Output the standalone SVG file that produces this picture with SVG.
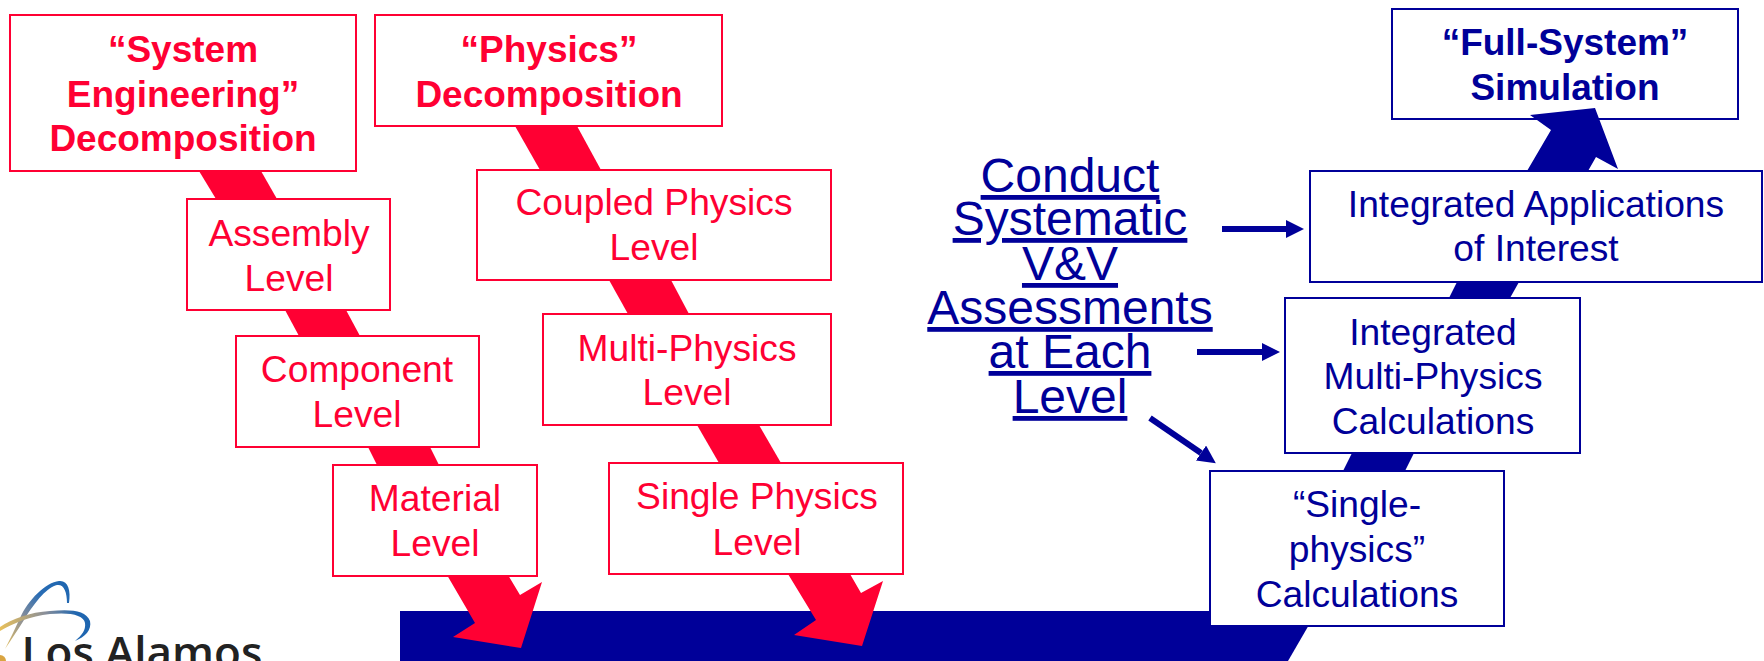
<svg xmlns="http://www.w3.org/2000/svg" width="1764" height="661" viewBox="0 0 1764 661">
<style>
text{font-family:"Liberation Sans",Arial,sans-serif;font-size:37.2px;text-anchor:middle}
.r rect{fill:#fff;stroke:#FF0033;stroke-width:2}
.b rect{fill:#fff;stroke:#000099;stroke-width:2}
.r text{fill:#FF0033}
.b text{fill:#000099}
.h text{font-weight:bold;font-size:37px}
.rf{fill:#FF0033}
.bf{fill:#000099}
.ln{stroke:#000099;stroke-width:6;fill:none;marker-end:url(#ah)}
#vv text{font-size:48px;fill:#000099;text-decoration:underline}
</style>
<defs>
<marker id="ah" markerUnits="userSpaceOnUse" markerWidth="18" markerHeight="18" refX="0" refY="9" orient="auto"><path d="M0 0L18 9L0 18Z" fill="#000099"/></marker>
<linearGradient id="g1" gradientUnits="userSpaceOnUse" x1="4" y1="650" x2="66" y2="585"><stop offset="0" stop-color="#E8C05A"/><stop offset=".4" stop-color="#8A8F99"/><stop offset=".72" stop-color="#2A6DB5"/><stop offset="1" stop-color="#1F66B0"/></linearGradient>
<linearGradient id="g2" gradientUnits="userSpaceOnUse" x1="0" y1="625" x2="90" y2="625"><stop offset="0" stop-color="#E8C05A"/><stop offset=".5" stop-color="#8A8F99"/><stop offset=".85" stop-color="#1F66B0"/></linearGradient>
</defs>

<g id="logo">
<path d="M69 603C71 590 68 580 59 581C46 582 28 600 20 618C15 629 10 639 5 649C11 640 17 631 24 620C36 600 48 587 57 585C64 584 67 592 67 603Z" fill="url(#g1)"/>
<path d="M0 631C14 623 30 616 50 614C70 612 84 615 85 623C86 630 82 635 75 641C85 637 92 630 90 621C86 610 70 609 50 611C30 612 12 619 0 627Z" fill="url(#g2)"/>
<circle cx="0" cy="661" r="6" fill="#D9A441"/>
<text x="142" y="668" style="font-family:'Open Sans',sans-serif;font-weight:600;font-size:44px;fill:#222">Los Alamos</text>
</g>

<g id="full-system" class="b h"><rect x="1392" y="9" width="346" height="110"/><text x="1565"><tspan x="1565" y="55">“Full-System”</tspan><tspan x="1565" y="100">Simulation</tspan></text></g>

<g id="connectors">
<path class="bf" d="M400 611H1317L1288 661H400Z"/>
<path class="rf" d="M199 171H261L277 199H216Z"/>
<path class="rf" d="M285 310H346L360 336H299Z"/>
<path class="rf" d="M368 447H430L439 465H377Z"/>
<path class="rf" d="M447 575H508L520 595L542 582L521 648L453 637L475 623Z"/>
<path class="rf" d="M515 126H577L601 170H540Z"/>
<path class="rf" d="M609 280H671L689 314H628Z"/>
<path class="rf" d="M697 425H759L781 463H719Z"/>
<path class="rf" d="M788 574H850L861 593L883 581L862 646L794 635L816 620Z"/>
<path class="bf" d="M1343 471L1352 453H1414L1405 471Z"/>
<path class="bf" d="M1449 298L1457 282H1519L1510 298Z"/>
<path class="bf" d="M1527 171L1551 130L1530 115L1595 108L1618 169L1596 157L1588 171Z"/>
<path class="ln" d="M1222 229H1286"/>
<path class="ln" d="M1197 352H1262"/>
<path class="ln" d="M1150 418L1201 453"/>
</g>

<g id="system-eng" class="r h"><rect x="10" y="15" width="346" height="156"/><text><tspan x="183" y="62">“System</tspan><tspan x="183" y="107">Engineering”</tspan><tspan x="183" y="151">Decomposition</tspan></text></g>
<g id="physics" class="r h"><rect x="375" y="15" width="347" height="111"/><text><tspan x="549" y="62">“Physics”</tspan><tspan x="549" y="107">Decomposition</tspan></text></g>
<g id="assembly" class="r"><rect x="187" y="199" width="203" height="111"/><text><tspan x="289" y="246">Assembly</tspan><tspan x="289" y="291">Level</tspan></text></g>
<g id="component" class="r"><rect x="236" y="336" width="243" height="111"/><text><tspan x="357" y="382">Component</tspan><tspan x="357" y="427">Level</tspan></text></g>
<g id="material" class="r"><rect x="333" y="465" width="204" height="111"/><text><tspan x="435" y="511">Material</tspan><tspan x="435" y="556">Level</tspan></text></g>
<g id="coupled" class="r"><rect x="477" y="170" width="354" height="110"/><text><tspan x="654" y="215">Coupled Physics</tspan><tspan x="654" y="260">Level</tspan></text></g>
<g id="multi" class="r"><rect x="543" y="314" width="288" height="111"/><text><tspan x="687" y="361">Multi-Physics</tspan><tspan x="687" y="405">Level</tspan></text></g>
<g id="single" class="r"><rect x="609" y="463" width="294" height="111"/><text><tspan x="757" y="509">Single Physics</tspan><tspan x="757" y="555">Level</tspan></text></g>

<g id="apps" class="b"><rect x="1310" y="171" width="452" height="111"/><text><tspan x="1536" y="217">Integrated Applications</tspan><tspan x="1536" y="261">of Interest</tspan></text></g>
<g id="int-multi" class="b"><rect x="1285" y="298" width="295" height="155"/><text><tspan x="1433" y="345">Integrated</tspan><tspan x="1433" y="389">Multi-Physics</tspan><tspan x="1433" y="434">Calculations</tspan></text></g>
<g id="single-calc" class="b"><rect x="1210" y="471" width="294" height="155"/><text><tspan x="1357" y="517">“Single-</tspan><tspan x="1357" y="562">physics”</tspan><tspan x="1357" y="607">Calculations</tspan></text></g>

<g id="vv"><text x="1070" y="192">Conduct</text><text x="1070" y="235">Systematic</text><text x="1070" y="280">V&amp;V</text><text x="1070" y="324">Assessments</text><text x="1070" y="368">at Each</text><text x="1070" y="413">Level</text></g>
</svg>
